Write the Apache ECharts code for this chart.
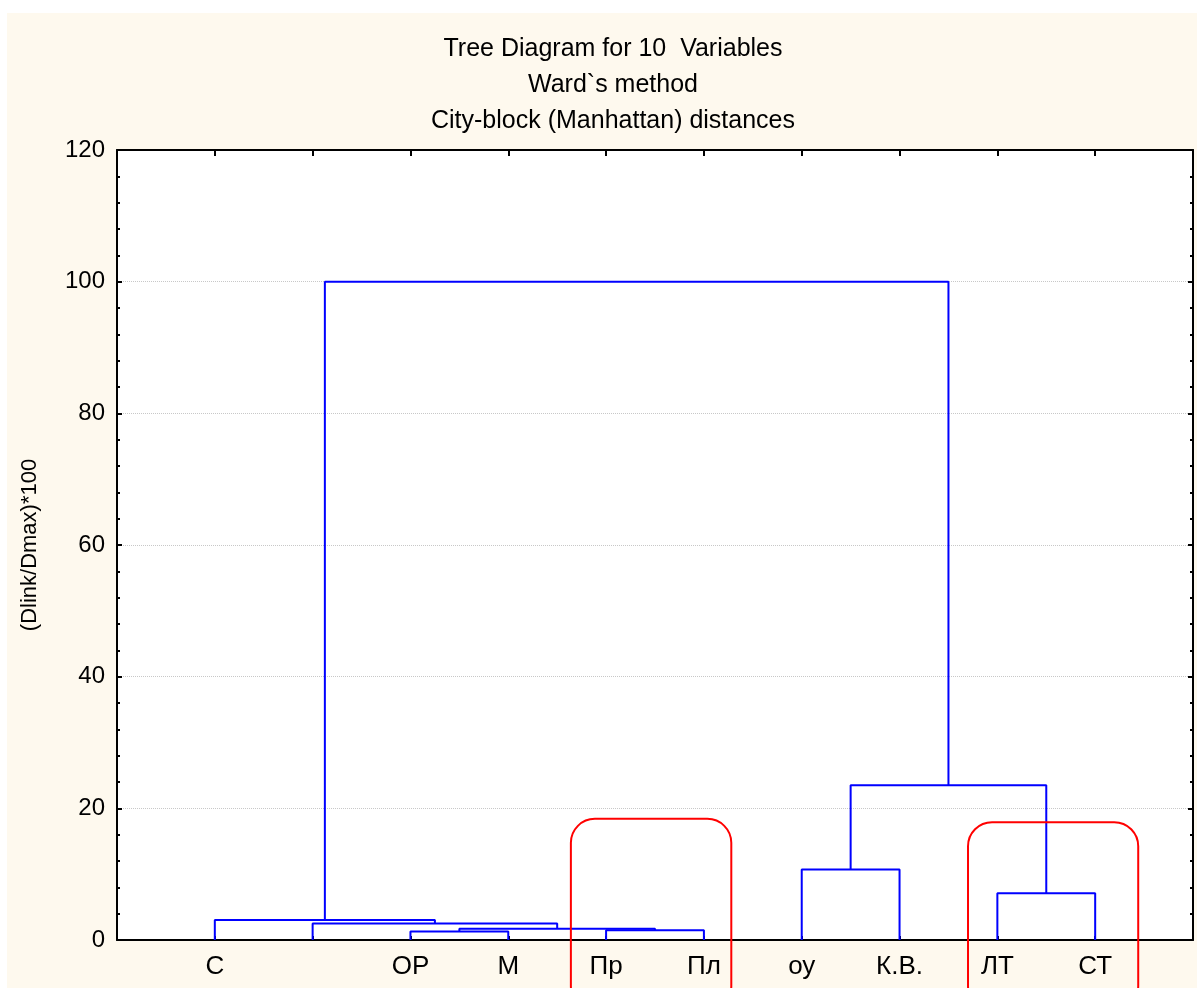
<!DOCTYPE html>
<html>
<head>
<meta charset="utf-8">
<title>Tree Diagram</title>
<script src="https://cdn.jsdelivr.net/npm/echarts@6/dist/echarts.min.js"></script>
<style>
    html, body { margin: 0; padding: 0; background: #fff; }
    #panel { position: absolute; left: 7px; top: 13px; width: 1190px; height: 975px; background: #fef9ee; }
    #chart { position: absolute; left: 0; top: 0; width: 1197px; height: 988px; }
</style>
</head>
<body>
<div id="panel"></div>
<div id="chart"></div>
<script>
// leaves, left to right (second leaf has no label in the picture)
var leafNames = ['С', '', 'ОР', 'М', 'Пр', 'Пл', 'оу', 'К.В.', 'ЛТ', 'СТ'];

// merges: ids 0..9 are leaves, merge k creates cluster 10+k
var mergeLeft   = [2,   4,   10,  1,   0,   6,    8,   15,   14];
var mergeRight  = [3,   5,   11,  12,  13,  7,    9,   16,   17];
var mergeHeight = [1.3, 1.5, 1.7, 2.5, 3.05, 10.7, 7.1, 23.5, 100];

var yTicks = [0, 20, 40, 60, 80, 100, 120];

// red highlight boxes [xFrom, xTo, yTop] in axis units
var boxX0 = [4.64, 8.70];
var boxX1 = [6.28, 10.44];
var boxTop = [18.4, 17.9];

var chart = echarts.init(document.getElementById('chart'));

// position and height of every node
var nodeX = leafNames.map(function (n, i) { return i + 1; });
var nodeH = leafNames.map(function () { return 0; });
mergeLeft.forEach(function (l, k) {
    var r = mergeRight[k];
    nodeX.push((nodeX[l] + nodeX[r]) / 2);
    nodeH.push(mergeHeight[k]);
});

var series = mergeLeft.map(function (l, k) {
    var r = mergeRight[k];
    var h = mergeHeight[k];
    return {
        type: 'line',
        symbol: 'none',
        silent: true,
        lineStyle: { color: '#0000ff', width: 2 },
        data: [
            [nodeX[l], nodeH[l]],
            [nodeX[l], h],
            [nodeX[r], h],
            [nodeX[r], nodeH[r]]
        ]
    };
});
// empty series so the top and right axes are drawn too
series.push({ type: 'line', xAxisIndex: 1, yAxisIndex: 1, symbol: 'none', data: [] });

var tickStyle = { color: '#000', width: 2 };

var option = {
    animation: false,
    title: {
        text: 'Tree Diagram for 10  Variables\nWard`s method\nCity-block (Manhattan) distances',
        left: 608,
        top: 26,
        textAlign: 'center',
        textStyle: {
            fontFamily: 'Liberation Sans',
            fontWeight: 'normal',
            fontSize: 25,
            lineHeight: 36,
            color: '#000'
        }
    },
    grid: { left: 117, right: 4, top: 150, bottom: 48, show: true, backgroundColor: '#fff', borderWidth: 0 },
    xAxis: [{
        type: 'value',
        min: 0,
        max: 11,
        interval: 1,
        position: 'bottom',
        axisLine: { show: true, onZero: false, lineStyle: { color: '#000', width: 2 } },
        axisTick: { show: true, inside: true, length: 4, lineStyle: tickStyle },
        splitLine: { show: false },
        axisLabel: {
            fontFamily: 'Liberation Sans',
            fontSize: 26,
            color: '#000',
            margin: 14,
            showMinLabel: false,
            showMaxLabel: false,
            formatter: function (v) { return leafNames[v - 1] || ''; }
        }
    }, {
        type: 'value',
        min: 0,
        max: 11,
        interval: 1,
        position: 'top',
        axisLine: { show: true, onZero: false, lineStyle: { color: '#000', width: 2 } },
        axisTick: { show: true, inside: true, length: 6, lineStyle: tickStyle },
        splitLine: { show: false },
        axisLabel: { show: false }
    }],
    yAxis: [{
        type: 'value',
        min: 0,
        max: 120,
        interval: 20,
        position: 'left',
        name: '(Dlink/Dmax)*100',
        nameLocation: 'middle',
        nameRotate: 90,
        nameGap: 76,
        nameTextStyle: { fontFamily: 'Liberation Sans', fontSize: 22, color: '#000' },
        axisLine: { show: true, onZero: false, lineStyle: { color: '#000', width: 2 } },
        axisTick: { show: true, inside: true, length: 5, lineStyle: tickStyle },
        minorTick: { show: true, splitNumber: 5, length: 3, lineStyle: tickStyle },
        splitLine: { show: true, lineStyle: { color: '#c8c8c8', type: 'dotted', width: 1 } },
        axisLabel: {
            fontFamily: 'Liberation Sans',
            fontSize: 24,
            color: '#000',
            margin: 12,
            formatter: function (v) { return yTicks.indexOf(v) >= 0 ? String(v) : ''; }
        }
    }, {
        type: 'value',
        min: 0,
        max: 120,
        interval: 20,
        position: 'right',
        axisLine: { show: true, onZero: false, lineStyle: { color: '#000', width: 2 } },
        axisTick: { show: true, inside: true, length: 5, lineStyle: tickStyle },
        minorTick: { show: true, splitNumber: 5, length: 3, lineStyle: tickStyle },
        splitLine: { show: false },
        axisLabel: { show: false }
    }],
    series: series
};

chart.setOption(option);

// annotation boxes placed through the axis scales
var boxes = boxX0.map(function (x0, i) {
    var p0 = chart.convertToPixel({ gridIndex: 0 }, [x0, boxTop[i]]);
    var p1 = chart.convertToPixel({ gridIndex: 0 }, [boxX1[i], 0]);
    return {
        type: 'rect',
        silent: true,
        z: 100,
        shape: { x: p0[0], y: p0[1], width: p1[0] - p0[0], height: 1010 - p0[1], r: 24 },
        style: { fill: 'none', stroke: '#ff0000', lineWidth: 2 }
    };
});
chart.setOption({ graphic: boxes });
</script>
</body>
</html>
